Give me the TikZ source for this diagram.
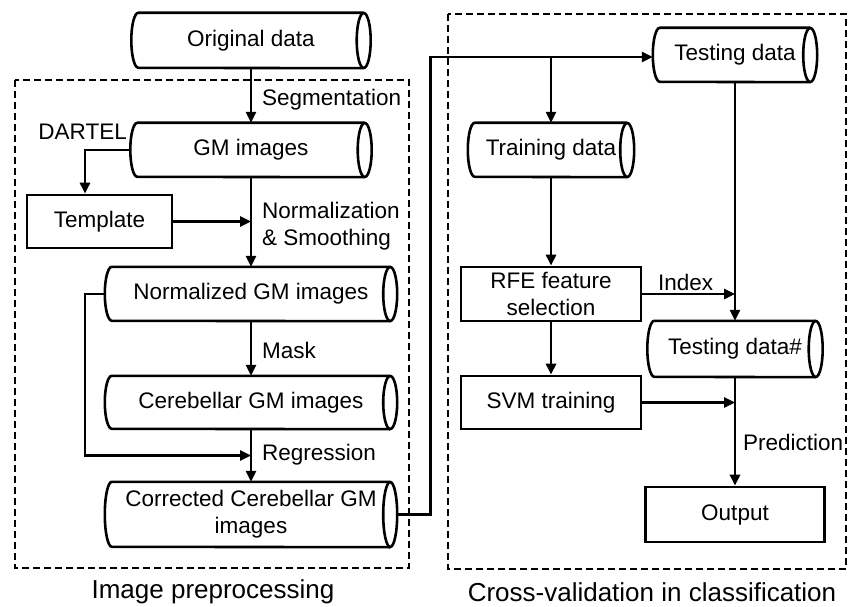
\documentclass[tikz,border=0pt]{standalone}
\usepackage{fontspec}
\setmainfont{Liberation Sans}
\usetikzlibrary{arrows.meta,calc}

% half width of the elliptic ends of a data store
\newcommand\cylrx{7pt}

\tikzset{
  x=1pt, y=1pt,
  every node/.style={font=\fontsize{22.5}{27}\selectfont},
  outline/.style={line width=2.6pt},
  flow/.style={line width=2.6pt, -{Triangle[length=11pt,width=10pt]}},
  box/.style={draw, outline, rectangle, inner sep=0pt, align=center},
  % horizontal cylinder: half ellipse on the left, full ellipse on the right
  store/.style={rectangle, inner sep=0pt, align=center, minimum height=#1,
    append after command={\pgfextra{
      \draw[outline] ([xshift=-\cylrx]\tikzlastnode.north east)
        -- ([xshift=\cylrx]\tikzlastnode.north west)
        arc[start angle=90, end angle=270, x radius=\cylrx, y radius=#1/2]
        -- ([xshift=-\cylrx]\tikzlastnode.south east);
      \draw[outline] ([xshift=-\cylrx]\tikzlastnode.east)
        ellipse[x radius=\cylrx, y radius=#1/2];}}},
  group/.style={draw, line width=1.7pt, dash pattern=on 7pt off 4pt},
  lbl/.style={anchor=west, inner sep=0pt, align=left},
  caption/.style={font=\fontsize{26}{30}\selectfont, inner sep=0pt},
}

\begin{document}
\begin{tikzpicture}
\useasboundingbox (0,0) rectangle (855,-607);

% dashed group frames
\draw[group] (15,-80) rectangle (409,-568);
\draw[group] (448,-14) rectangle (846,-569);

% image preprocessing column
\node[store=55pt, minimum width=239pt] (orig) at (251,-40.5) {Original data};
\node[store=54pt, minimum width=241pt] (gm) at (251,-150) {GM images};
\node[box, minimum width=145pt, minimum height=53pt] (tmpl) at (99.5,-221.5) {Template};
\node[store=54pt, minimum width=292pt] (norm) at (251,-294) {Normalized GM images};
\node[store=53pt, minimum width=292pt] (cereb) at (251,-402.5) {Cerebellar GM images};
\node[store=65pt, minimum width=292pt] (corr) at (251,-514.5) {Corrected Cerebellar GM\\images};

% cross-validation column
\node[store=54pt, minimum width=164pt] (test) at (735,-55) {Testing data};
\node[store=54pt, minimum width=166pt] (train) at (551,-150) {Training data};
\node[box, minimum width=180pt, minimum height=54pt] (rfe) at (551,-294) {RFE feature\\selection};
\node[store=56pt, minimum width=175pt] (testh) at (735,-349) {Testing data\#};
\node[box, minimum width=180pt, minimum height=53pt] (svm) at (551,-402.5) {SVM training};
\node[box, minimum width=179pt, minimum height=55pt] (out) at (735,-514.5) {Output};

% connectors, preprocessing
\draw[flow] (orig.south) -- (gm.north);
\draw[flow] (gm.west) -| ([xshift=-14.5pt]tmpl.north);
\draw[flow] (gm.south) -- (norm.north);
\draw[flow] (tmpl.east) -- (tmpl.east -| gm.south);
\draw[flow] (norm.south) -- (cereb.north);
\draw[flow] (cereb.south) -- (corr.north);
\coordinate (rjoin) at ($(cereb.south)!0.5!(corr.north)$);
\draw[flow] (norm.west) -- ++(-20,0) |- (rjoin);

% connectors, classification
\draw[flow] (corr.east) -- ++(33,0) |- ([yshift=-2pt]test.west);
\draw[flow] ([yshift=-2pt]train.north |- test.west) -- (train.north);
\draw[flow] (train.south) -- (rfe.north);
\draw[flow] (rfe.south) -- (svm.north);
\draw[flow] (test.south) -- (testh.north);
\draw[flow] (rfe.east) -- (rfe.east -| test.south);
\draw[flow] (svm.east) -- (svm.east -| testh.south);
\draw[flow] (testh.south) -- (out.north);

% step labels
\node[lbl] at (262,-100) {Segmentation};
\node[inner sep=0pt, anchor=east] at (127,-132) {DARTEL};
\node[lbl] at (262,-226.5) {Normalization\\\& Smoothing};
\node[lbl] at (262,-350) {Mask};
\node[lbl] at (262,-455) {Regression};
\node[lbl] at (658,-282) {Index};
\node[lbl] at (743,-442) {Prediction};

% group captions
\node[caption] at (213,-592) {Image preprocessing};
\node[caption] at (652,-592) {Cross-validation in classification};
\end{tikzpicture}
\end{document}
